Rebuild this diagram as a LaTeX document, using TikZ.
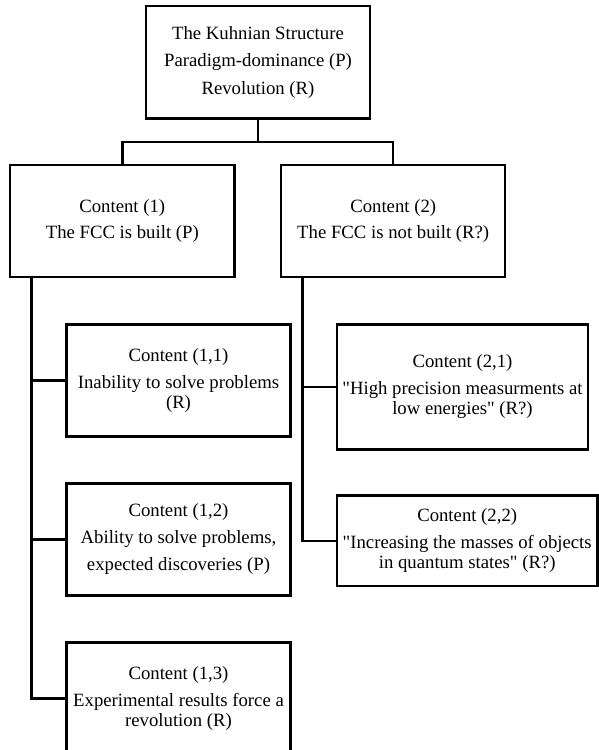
\documentclass[tikz,border=0pt]{standalone}
\usepackage{fontspec}
\setmainfont{Liberation Serif}
\usepackage{tikz}

\begin{document}
\begin{tikzpicture}[x=1bp, y=-1bp,
    box/.style={draw, line width=2.4bp, rectangle, align=center, inner sep=0pt,
        minimum width=224bp, minimum height=112bp,
        font=\fontsize{18.8}{20.5}\selectfont},
    link/.style={line width=2.4bp}]
    \useasboundingbox (0,0) rectangle (599,750);

    % Top level
    \node[box] (kuhn) at (258,62.3)
        {The Kuhnian Structure\\[7bp] Paradigm-dominance (P)\\[7bp] Revolution (R)};

    % Contents
    \node[box] (c1) at (122.3,221) {Content (1)\\[6.5bp] The FCC is built (P)};
    \node[box] (c2) at (393.2,221) {Content (2)\\[6.5bp] The FCC is not built (R?)};

    % Contents of (1)
    \node[box] (c11) at (178.5,380.5)
        {Content (1,1)\\[6.5bp] Inability to solve problems\\ (R)};
    \node[box] (c12) at (178.5,539.3)
        {Content (1,2)\\[6.5bp] Ability to solve problems,\\[6.5bp] expected discoveries (P)};
    \node[box] (c13) at (178.5,698.3)
        {Content (1,3)\\[6.5bp] Experimental results force a\\ revolution (R)};

    % Contents of (2)
    \node[box, minimum width=251bp, minimum height=125bp] (c21) at (462.5,386.8)
        {Content (2,1)\\[6.5bp] \textquotedbl High precision measurments at\\ low energies\textquotedbl{} (R?)};
    \node[box, minimum width=260.3bp, minimum height=90.3bp] (c22) at (467.2,540.8)
        {Content (2,2)\\[6.5bp] \textquotedbl Increasing the masses of objects\\ in quantum states\textquotedbl{} (R?)};

    % Fork below the top box
    \coordinate (fork) at (258,142);
    \draw[link] (kuhn.south) -- (fork);
    \draw[link] (c1.north) |- (fork) -| (c2.north);

    % Spines
    \coordinate (spine1) at ([xshift=22.5bp]c1.south west);
    \coordinate (spine2) at ([xshift=22.5bp]c2.south west);
    \draw[link] (spine1) |- (c13.west);
    \draw[link] (spine1 |- c11.west) -- (c11.west);
    \draw[link] (spine1 |- c12.west) -- (c12.west);
    \draw[link] (spine2) |- (c22.west);
    \draw[link] (spine2 |- c21.west) -- (c21.west);
\end{tikzpicture}
\end{document}
